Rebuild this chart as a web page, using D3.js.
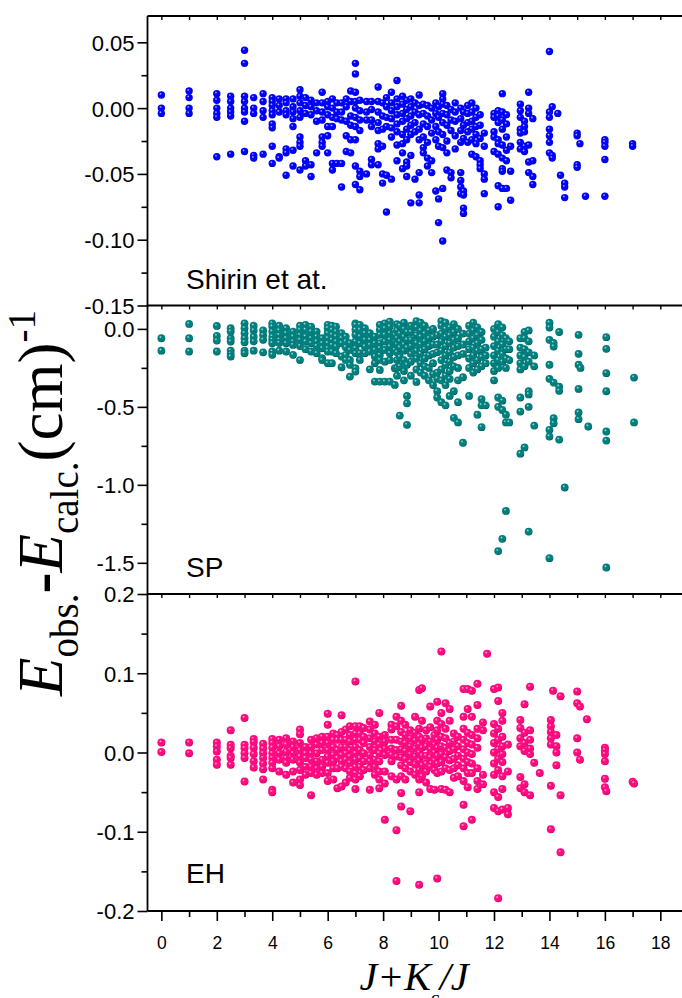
<!DOCTYPE html>
<html><head><meta charset="utf-8">
<script src="https://cdn.jsdelivr.net/npm/d3@7"></script>
<style>body{margin:0;background:#fff}svg{display:block}</style>
</head><body>
<script>
// ---------------- data ----------------
const xTicks = [0, 2, 4, 6, 8, 10, 12, 14, 16, 18];
const xMinorTicks = [1, 3, 5, 7, 9, 11, 13, 15, 17, 19];
const shirinTicks = [0.05, 0.00, -0.05, -0.10, -0.15];
const shirinMinor = [0.025, -0.025, -0.075, -0.125];
const spTicks = [0.0, -0.5, -1.0, -1.5];
const spMinor = [-0.25, -0.75, -1.25];
const ehTicks = [0.2, 0.1, 0.0, -0.1, -0.2];
const ehMinor = [0.15, 0.05, -0.05, -0.15];
const panelLabels = ["Shirin et at.", "SP", "EH"];

// each entry: [J + K/J, [E_obs - E_calc values]]
const shirin = [
  [0, [0.010, 0.000, -0.004]],
  [1, [0.013, 0.008, 0.000, -0.004]],
  [2, [0.011, 0.006, 0.000, -0.004, -0.007, -0.037]],
  [2.5, [0.009, 0.005, 0.000, -0.003, -0.006, -0.035]],
  [3, [0.044, 0.034, 0.009, 0.005, 0.000, -0.003, -0.010, -0.033]],
  [3.33, [0.008, 0.000, -0.004, -0.036, -0.038]],
  [3.67, [0.011, 0.005, -0.002, -0.007, -0.035]],
  [4, [0.008, 0.005, 0.002, -0.002, -0.005, -0.012, -0.015, -0.029, -0.042]],
  [4.25, [0.007, 0.002, -0.003, -0.037, -0.038]],
  [4.5, [0.007, 0.004, -0.002, -0.005, -0.031, -0.034, -0.051]],
  [4.75, [0.007, 0.001, -0.003, -0.008, -0.014, -0.032, -0.044]],
  [5, [0.014, 0.009, 0.004, -0.002, -0.007, -0.022, -0.026, -0.029, -0.047]],
  [5.2, [0.008, 0.002, -0.004, -0.040, -0.044]],
  [5.4, [0.006, 0.001, -0.005, -0.043, -0.052]],
  [5.6, [0.004, -0.002, -0.010, -0.034]],
  [5.8, [0.012, 0.004, -0.003, -0.009, -0.022, -0.026, -0.029]],
  [6, [0.005, 0.001, -0.005, -0.014, -0.021, -0.034]],
  [6.17, [0.007, 0.000, -0.007, -0.014, -0.042, -0.047]],
  [6.33, [0.004, -0.003, -0.008, -0.042]],
  [6.5, [0.004, -0.003, -0.009, -0.042, -0.060]],
  [6.67, [0.007, 0.001, -0.010, -0.021, -0.033]],
  [6.83, [0.013, 0.005, -0.006, -0.013, -0.024, -0.034]],
  [7, [0.034, 0.026, 0.012, 0.005, 0.000, -0.007, -0.014, -0.024, -0.044, -0.058]],
  [7.16, [0.006, -0.002, -0.009, -0.017, -0.048, -0.052, -0.062]],
  [7.4, [0.005, -0.003, -0.009, -0.050]],
  [7.58, [0.005, -0.001, -0.009, -0.014, -0.039, -0.043]],
  [7.82, [0.016, 0.005, -0.003, -0.011, -0.017, -0.027, -0.031, -0.043]],
  [7.98, [0.004, -0.006, -0.016, -0.029, -0.050, -0.057]],
  [8.12, [0.008, 0.001, -0.007, -0.014, -0.051, -0.079]],
  [8.3, [0.012, 0.004, -0.002, -0.008, -0.015, -0.022, -0.054]],
  [8.5, [0.021, 0.007, 0.001, -0.005, -0.012, -0.018, -0.028, -0.040]],
  [8.7, [0.009, 0.003, -0.004, -0.010, -0.020, -0.027, -0.034, -0.046]],
  [8.85, [0.006, -0.001, -0.008, -0.016, -0.024, -0.041, -0.044, -0.052]],
  [9.0, [0.007, 0.001, -0.006, -0.013, -0.020, -0.036, -0.072]],
  [9.15, [0.004, -0.003, -0.011, -0.018, -0.054]],
  [9.3, [0.010, 0.002, -0.005, -0.016, -0.024, -0.049, -0.066, -0.072]],
  [9.45, [0.003, -0.004, -0.012, -0.022, -0.030, -0.034]],
  [9.6, [0.002, -0.006, -0.014, -0.026, -0.038, -0.044]],
  [9.75, [0.000, -0.009, -0.019, -0.040, -0.049]],
  [9.9, [0.004, -0.004, -0.014, -0.024, -0.063]],
  [10.0, [0.001, -0.007, -0.018, -0.029, -0.069, -0.087]],
  [10.15, [0.011, 0.007, 0.003, -0.004, -0.011, -0.020, -0.030, -0.061, -0.101]],
  [10.3, [0.002, -0.005, -0.013, -0.025, -0.034, -0.047]],
  [10.45, [-0.001, -0.009, -0.017, -0.049, -0.053]],
  [10.6, [0.004, -0.003, -0.010, -0.021, -0.031]],
  [10.8, [0.000, -0.008, -0.017, -0.026, -0.049, -0.055, -0.060, -0.065]],
  [10.9, [-0.003, -0.013, -0.023, -0.063, -0.066, -0.076, -0.080]],
  [11.05, [0.002, -0.004, -0.011, -0.018, -0.026]],
  [11.2, [0.004, -0.003, -0.010, -0.016, -0.024, -0.035]],
  [11.35, [0.000, -0.007, -0.014, -0.020, -0.027, -0.037]],
  [11.5, [-0.005, -0.013, -0.023, -0.040, -0.043, -0.046]],
  [11.65, [-0.019, -0.029, -0.050, -0.054, -0.065]],
  [12.0, [-0.004, -0.007, -0.018, -0.022, -0.033]],
  [12.15, [-0.002, -0.006, -0.011, -0.024, -0.027, -0.035, -0.059, -0.075]],
  [12.3, [0.011, -0.003, -0.009, -0.016, -0.028, -0.038, -0.046, -0.048, -0.061]],
  [12.45, [-0.005, -0.012, -0.022, -0.032, -0.040, -0.061]],
  [12.6, [-0.029, -0.048, -0.070]],
  [12.95, [0.003, -0.002, -0.007, -0.016, -0.019, -0.026, -0.031]],
  [13.1, [-0.010, -0.014, -0.018, -0.029, -0.033]],
  [13.25, [0.012, 0.000, -0.004, -0.028, -0.041, -0.049]],
  [13.4, [-0.008, -0.040, -0.052, -0.058]],
  [14.0, [0.043, -0.003, -0.007, -0.016, -0.021, -0.026, -0.034]],
  [14.1, [0.001, -0.036, -0.038]],
  [14.3, [-0.004]],
  [14.4, [-0.051]],
  [14.55, [-0.057, -0.060, -0.068]],
  [15.0, [-0.019, -0.021, -0.043, -0.045]],
  [15.1, [-0.027]],
  [15.3, [-0.067]],
  [16.0, [-0.024, -0.026, -0.029, -0.039, -0.067]],
  [17.0, [-0.027, -0.029]]
];

const sp = [
  [0, [-0.06, -0.14]],
  [1, [0.032, -0.06, -0.145]],
  [2, [0.019, -0.045, -0.075, -0.145]],
  [2.5, [0.004, -0.017, -0.06, -0.081, -0.139, -0.16, -0.177]],
  [3, [0.036, 0.004, -0.028, -0.06, -0.085, -0.139, -0.156]],
  [3.33, [0.02, -0.01, -0.05, -0.08, -0.14]],
  [3.67, [-0.01, -0.04, -0.07, -0.15]],
  [4, [0.036, 0.015, -0.017, -0.049, -0.07, -0.092, -0.145, -0.166]],
  [4.25, [0.02, -0.01, -0.04, -0.07, -0.09, -0.14]],
  [4.5, [0.004, -0.028, -0.06, -0.092, -0.145]],
  [4.75, [-0.017, -0.049, -0.081, -0.103, -0.166]],
  [5, [0.02, -0.006, -0.04, -0.07, -0.11, -0.2]],
  [5.2, [0.026, -0.006, -0.049, -0.081, -0.13]],
  [5.4, [0.015, -0.017, -0.06, -0.092, -0.145]],
  [5.6, [-0.017, -0.049, -0.081, -0.11, -0.156]],
  [5.8, [-0.06, -0.092, -0.124, -0.188, -0.2]],
  [6, [0.026, 0.004, -0.028, -0.06, -0.092, -0.124, -0.145, -0.22]],
  [6.15, [0.02, -0.006, -0.038, -0.07, -0.103, -0.145, -0.22]],
  [6.3, [0.015, -0.017, -0.049, -0.081, -0.113, -0.156]],
  [6.5, [-0.028, -0.06, -0.092, -0.177, -0.246]],
  [6.65, [-0.049, -0.081, -0.118, -0.167, -0.199]],
  [6.8, [-0.092, -0.135, -0.199, -0.23, -0.306]],
  [7, [0.036, 0.026, -0.006, -0.038, -0.081, -0.124, -0.156, -0.252, -0.274]],
  [7.16, [0.026, -0.006, -0.049, -0.092, -0.156, -0.199]],
  [7.34, [0.004, -0.028, -0.07, -0.113, -0.156]],
  [7.52, [-0.028, -0.07, -0.103, -0.145, -0.259]],
  [7.7, [-0.049, -0.092, -0.135, -0.177, -0.22, -0.338]],
  [7.88, [0.026, -0.006, -0.038, -0.092, -0.124, -0.167, -0.199, -0.263, -0.338]],
  [8.06, [0.036, 0.004, -0.038, -0.081, -0.135, -0.21, -0.338]],
  [8.24, [0.047, 0.015, -0.028, -0.07, -0.113, -0.156, -0.199, -0.338]],
  [8.42, [-0.038, -0.081, -0.135, -0.252, -0.359]],
  [8.5, [0.03, -0.01, -0.06, -0.10, -0.15, -0.2, -0.25, -0.30]],
  [8.6, [0.02, -0.03, -0.08, -0.12, -0.18, -0.24, -0.556]],
  [8.75, [0.04, 0.0, -0.05, -0.10, -0.14, -0.20, -0.27, -0.33]],
  [8.86, [-0.02, -0.07, -0.12, -0.23, -0.43, -0.477, -0.615]],
  [9.0, [0.02, -0.02, -0.07, -0.11, -0.16, -0.21, -0.30]],
  [9.2, [0.05, 0.01, -0.04, -0.09, -0.14, -0.19, -0.26, -0.34]],
  [9.35, [0.04, -0.01, -0.05, -0.10, -0.16, -0.22, -0.28]],
  [9.5, [0.02, -0.03, -0.08, -0.13, -0.19, -0.24, -0.30]],
  [9.65, [-0.01, -0.06, -0.11, -0.17, -0.25, -0.33]],
  [9.8, [0.0, -0.05, -0.10, -0.16, -0.22, -0.29, -0.36]],
  [9.95, [-0.04, -0.10, -0.15, -0.28, -0.32, -0.40, -0.44]],
  [10.1, [0.05, 0.02, -0.03, -0.08, -0.14, -0.20, -0.26, -0.33, -0.47]],
  [10.25, [0.04, 0.0, -0.05, -0.11, -0.17, -0.23, -0.30, -0.36, -0.49]],
  [10.4, [0.01, -0.04, -0.09, -0.15, -0.21, -0.27, -0.32, -0.43]],
  [10.55, [0.03, -0.02, -0.07, -0.12, -0.18, -0.24, -0.40, -0.57]],
  [10.7, [0.0, -0.06, -0.11, -0.17, -0.25, -0.33, -0.47, -0.60]],
  [10.88, [-0.03, -0.10, -0.16, -0.31, -0.73]],
  [11.1, [0.02, -0.03, -0.08, -0.13, -0.19, -0.25, -0.43]],
  [11.25, [0.04, -0.01, -0.06, -0.12, -0.17, -0.22, -0.28]],
  [11.4, [0.01, -0.04, -0.09, -0.14, -0.20, -0.26, -0.55]],
  [11.55, [-0.02, -0.07, -0.13, -0.18, -0.24, -0.45, -0.49, -0.63]],
  [11.7, [-0.12, -0.17, -0.22, -0.49]],
  [12.0, [0.0, -0.05, -0.11, -0.17, -0.22, -0.27, -0.33]],
  [12.15, [0.03, -0.02, -0.08, -0.14, -0.20, -0.25, -0.44, -0.50, -1.425]],
  [12.3, [0.01, -0.04, -0.10, -0.16, -0.21, -0.46, -0.52, -1.346]],
  [12.43, [-0.06, -0.13, -0.19, -0.25, -0.55, -0.60, -1.167]],
  [12.55, [-0.08, -0.13, -0.20, -0.60]],
  [12.95, [-0.06, -0.12, -0.17, -0.22, -0.26, -0.44, -0.53, -0.80]],
  [13.1, [-0.02, -0.06, -0.13, -0.18, -0.24, -0.76]],
  [13.25, [-0.01, -0.08, -0.15, -0.21, -0.40, -0.42, -0.50, -1.30]],
  [13.45, [-0.17, -0.24, -0.62]],
  [14.0, [0.04, 0.009, -0.07, -0.23, -0.32, -0.647, -0.69, -1.47]],
  [14.15, [-0.09, -0.113, -0.344, -0.573, -0.605]],
  [14.35, [-0.02, -0.37, -0.397, -0.71]],
  [14.55, [-1.017]],
  [15.05, [-0.038, -0.16, -0.23, -0.385, -0.536, -0.579]],
  [15.12, [-0.25]],
  [15.4, [-0.626]],
  [16.05, [-0.053, -0.128, -0.284, -0.40, -0.658, -0.716, -1.53]],
  [17.05, [-0.312, -0.60]]
];

const eh = [
  [0, [0.0126, 0.0005]],
  [1, [0.0126, -0.0009]],
  [2, [0.0126, 0.0076, 0.0013, -0.0092, -0.0155]],
  [2.5, [0.028, 0.0097, 0.0055, -0.0042, -0.007, -0.0155]],
  [3, [0.0434, 0.0097, 0.0055, -0.0008, -0.007, -0.0366]],
  [3.33, [0.017, 0.013, 0.006, -0.002, -0.011, -0.019]],
  [3.67, [0.011, 0.005, -0.001, -0.007, -0.014, -0.021, -0.034]],
  [4, [0.017, 0.012, 0.006, -0.001, -0.007, -0.013, -0.020, -0.047, -0.050]],
  [4.25, [0.016, 0.008, -0.001, -0.009, -0.024]],
  [4.5, [0.018, 0.010, 0.001, -0.007, -0.013, -0.028]],
  [4.75, [0.014, 0.007, -0.001, -0.009, -0.024, -0.038]],
  [5, [0.029, 0.023, 0.012, 0.003, -0.005, -0.013, -0.022, -0.034, -0.041]],
  [5.2, [0.007, -0.001, -0.007, -0.018, -0.028]],
  [5.4, [0.016, 0.007, -0.001, -0.009, -0.018, -0.026, -0.054]],
  [5.6, [0.018, 0.010, -0.001, -0.011, -0.020, -0.028]],
  [5.8, [0.020, 0.012, 0.003, -0.009, -0.018, -0.026]],
  [6, [0.049, 0.035, 0.020, 0.012, 0.003, -0.005, -0.013, -0.026, -0.036]],
  [6.2, [0.024, 0.016, 0.007, -0.003, -0.011, -0.020, -0.034]],
  [6.35, [0.022, 0.016, 0.003, -0.007, -0.020, -0.045]],
  [6.5, [0.047, 0.026, 0.016, 0.007, -0.003, -0.011, -0.018, -0.043]],
  [6.65, [0.029, 0.016, 0.007, -0.001, -0.009, -0.020, -0.038]],
  [6.8, [0.033, 0.022, 0.014, 0.003, -0.005, -0.013, -0.024, -0.032]],
  [7, [0.0897, 0.033, 0.024, 0.016, 0.007, -0.001, -0.009, -0.018, -0.026, -0.034, -0.046]],
  [7.16, [0.033, 0.024, 0.016, 0.003, -0.007, -0.018, -0.030]],
  [7.3, [0.031, 0.020, 0.012, -0.001, -0.011, -0.022]],
  [7.52, [0.039, 0.029, 0.018, 0.007, -0.003, -0.011, -0.020, -0.047]],
  [7.7, [0.035, 0.024, 0.014, 0.003, -0.009, -0.018, -0.028]],
  [7.86, [0.050, 0.020, 0.010, -0.001, -0.011, -0.024, -0.034, -0.045]],
  [8.06, [0.022, 0.014, 0.005, -0.003, -0.024, -0.039, -0.085]],
  [8.3, [0.035, 0.029, 0.016, 0.005, -0.003, -0.011, -0.030]],
  [8.48, [0.045, 0.033, 0.016, 0.003, -0.005, -0.034, -0.098, -0.162]],
  [8.65, [0.059, 0.040, 0.026, 0.014, 0.004, -0.006, -0.016, -0.030, -0.051, -0.068]],
  [8.8, [0.035, 0.022, 0.012, 0.002, -0.008, -0.020, -0.034]],
  [8.98, [0.028, 0.018, 0.008, -0.002, -0.012, -0.024, -0.074]],
  [9.15, [0.045, 0.025, 0.015, 0.005, -0.005, -0.015, -0.028]],
  [9.3, [0.079, 0.030, 0.020, 0.010, 0.000, -0.010, -0.022, -0.034, -0.050, -0.167]],
  [9.4, [0.081, 0.040, 0.016, 0.006, -0.004, -0.016, -0.030]],
  [9.55, [0.028, 0.018, 0.008, -0.004, -0.014, -0.024, -0.038]],
  [9.7, [0.058, 0.032, 0.014, 0.004, -0.006, -0.018, -0.046]],
  [9.85, [0.022, 0.010, 0.000, -0.010, -0.022, -0.047]],
  [9.95, [0.064, 0.040, 0.028, 0.016, 0.006, -0.004, -0.014, -0.026, -0.159]],
  [10.1, [0.1275, 0.050, 0.036, 0.020, 0.008, -0.002, -0.012, -0.024, -0.046]],
  [10.25, [0.062, 0.030, 0.018, 0.006, -0.006, -0.020, -0.047]],
  [10.4, [0.055, 0.040, 0.012, 0.002, -0.010, -0.022, -0.050]],
  [10.55, [0.024, 0.014, 0.004, -0.008, -0.020, -0.032]],
  [10.7, [0.020, 0.008, -0.004, -0.016, -0.030]],
  [10.9, [0.080, 0.045, 0.030, 0.016, 0.004, -0.008, -0.020, -0.036, -0.066, -0.093]],
  [11.05, [0.080, 0.055, 0.025, 0.012, 0.000, -0.012, -0.026, -0.044]],
  [11.2, [0.078, 0.045, 0.022, 0.010, -0.002, -0.014, -0.026, -0.085]],
  [11.4, [0.0867, 0.060, 0.030, 0.018, 0.006, -0.020, -0.036, -0.046]],
  [11.6, [0.038, 0.028, -0.028, -0.040]],
  [11.75, [0.1246]],
  [12.0, [0.080, 0.036, 0.024, 0.012, 0.000, -0.014, -0.028, -0.050, -0.070]],
  [12.15, [0.082, 0.065, 0.030, 0.016, 0.004, -0.008, -0.022, -0.056, -0.074, -0.184]],
  [12.3, [0.050, 0.040, 0.020, 0.008, -0.002, -0.012, -0.030, -0.046, -0.072]],
  [12.5, [0.010, -0.024, -0.070, -0.078]],
  [12.95, [0.041, 0.031, 0.018, 0.008, -0.031, -0.045]],
  [13.1, [0.061, 0.025, 0.012, 0.002, -0.040, -0.050]],
  [13.3, [0.083, 0.028, 0.016, 0.005, -0.002, -0.054]],
  [13.45, [-0.013]],
  [13.65, [-0.026]],
  [14.05, [0.041, 0.033, 0.026, 0.018, 0.010, -0.042, -0.097]],
  [14.13, [0.078]],
  [14.25, [0.022, 0.008, 0.000, -0.016]],
  [14.4, [0.071, -0.054, -0.126]],
  [15.0, [0.077, 0.062, 0.018, 0.000]],
  [15.1, [0.058, -0.009]],
  [15.35, [0.042]],
  [16.0, [0.006, 0.003, -0.002, -0.011, -0.033, -0.044]],
  [16.05, [-0.049]],
  [17.0, [-0.037]],
  [17.05, [-0.039]]
];

// ---------------- drawing ----------------
const W = 682, H = 998;
const svg = d3.select("body").append("svg").attr("width", W).attr("height", H);
const defs = svg.append("defs");

const colors = [
  {id: "gBlue", light: "#c8c8ff", base: "#0000ff", dark: "#00009a"},
  {id: "gTeal", light: "#b8e2e2", base: "#007f7f", dark: "#004c4c"},
  {id: "gPink", light: "#ffc0dc", base: "#ff0a80", dark: "#b0004f"}
];
colors.forEach(c => {
  const g = defs.append("radialGradient").attr("id", c.id)
    .attr("cx", "40%").attr("cy", "38%").attr("r", "62%").attr("fx", "38%").attr("fy", "34%");
  g.append("stop").attr("offset", "0%").attr("stop-color", c.light);
  g.append("stop").attr("offset", "30%").attr("stop-color", c.base);
  g.append("stop").attr("offset", "85%").attr("stop-color", c.base);
  g.append("stop").attr("offset", "100%").attr("stop-color", c.dark);
});

const x = d3.scaleLinear().domain([-0.5, 19]).range([147.5, 147.5 + 19.5 * 27.72]);
const left = x(-0.5);

const panels = [
  {data: shirin, grad: "gBlue", domain: [-0.15, 0.07], top: 16, bottom: 305.5,
   ticks: shirinTicks, minor: shirinMinor, fmt: d => d.toFixed(2), r: 3.7, label: panelLabels[0], ly: 289},
  {data: sp, grad: "gTeal", domain: [-1.7, 0.15], top: 305.5, bottom: 594,
   ticks: spTicks, minor: spMinor, fmt: d => d.toFixed(1), r: 3.9, label: panelLabels[1], ly: 577},
  {data: eh, grad: "gPink", domain: [-0.2, 0.2], top: 594, bottom: 911,
   ticks: ehTicks, minor: ehMinor, fmt: d => d.toFixed(1), r: 4.0, label: panelLabels[2], ly: 883}
];

const font = "'Liberation Sans', Arial, sans-serif";

panels.forEach((p, i) => {
  const y = d3.scaleLinear().domain(p.domain).range([p.bottom, p.top]);
  const g = svg.append("g");

  // points
  const pts = p.data.flatMap(([xv, ys]) => ys.map(v => ({x: xv, y: v})));
  g.append("g").selectAll("circle").data(pts).join("circle")
    .attr("cx", d => x(d.x)).attr("cy", d => y(d.y)).attr("r", p.r)
    .attr("fill", `url(#${p.grad})`);

  // y axis major
  const ax = g.append("g").attr("transform", `translate(${left},0)`)
    .call(d3.axisLeft(y).tickValues(p.ticks).tickFormat(p.fmt).tickSize(10).tickPadding(3));
  ax.select(".domain").remove();
  ax.selectAll("line").attr("stroke", "#000").attr("stroke-width", 1.6);
  ax.selectAll("text").attr("font-family", font).attr("font-size", 22).attr("fill", "#000")
    .attr("dy", "0.36em");
  const axm = g.append("g").attr("transform", `translate(${left},0)`)
    .call(d3.axisLeft(y).tickValues(p.minor).tickFormat("").tickSize(6));
  axm.select(".domain").remove();
  axm.selectAll("line").attr("stroke", "#000").attr("stroke-width", 1.6);

  // top border of panel with small inward ticks
  const xt = g.append("g").attr("transform", `translate(0,${p.top})`)
    .call(d3.axisBottom(x).tickValues(d3.range(0, 20)).tickFormat("").tickSize(4));
  xt.select(".domain").remove();
  xt.selectAll("line").attr("stroke", "#000").attr("stroke-width", 1.4);
  g.append("line").attr("x1", left).attr("x2", W + 10).attr("y1", p.top).attr("y2", p.top)
    .attr("stroke", "#000").attr("stroke-width", 1.8);

  // panel label
  g.append("text").attr("x", 186).attr("y", p.ly).text(p.label)
    .attr("font-family", font).attr("font-size", 28).attr("fill", "#000");
});

// left frame line
svg.append("line").attr("x1", left).attr("x2", left).attr("y1", 16).attr("y2", 911)
  .attr("stroke", "#000").attr("stroke-width", 1.8);

// bottom x axis
const xb = svg.append("g").attr("transform", "translate(0,911)")
  .call(d3.axisBottom(x).tickValues(xTicks).tickFormat(d3.format("d")).tickSize(10).tickPadding(16));
xb.select(".domain").remove();
xb.selectAll("line").attr("stroke", "#000").attr("stroke-width", 1.6);
xb.selectAll("text").attr("font-family", font).attr("font-size", 17.5).attr("fill", "#000");
const xbm = svg.append("g").attr("transform", "translate(0,911)")
  .call(d3.axisBottom(x).tickValues(xMinorTicks).tickFormat("").tickSize(6));
xbm.select(".domain").remove();
xbm.selectAll("line").attr("stroke", "#000").attr("stroke-width", 1.6);
svg.append("line").attr("x1", left).attr("x2", W + 10).attr("y1", 911).attr("y2", 911)
  .attr("stroke", "#000").attr("stroke-width", 1.8);

// x title
const serif = "'Liberation Serif', 'Times New Roman', serif";
const xtt = svg.append("text").attr("x", 414).attr("y", 990).attr("text-anchor", "middle")
  .attr("font-family", serif).attr("font-size", 40).attr("font-style", "italic").attr("fill", "#000");
xtt.append("tspan").text("J+K");
xtt.append("tspan").attr("font-size", 20).attr("dy", 15).attr("font-style", "normal").text("c");
xtt.append("tspan").attr("dy", -15).text("/J");

// y title
const yt = svg.append("text").attr("transform", "translate(62,503) rotate(-90)")
  .attr("text-anchor", "middle").attr("font-family", serif).attr("font-size", 63).attr("fill", "#000");
yt.append("tspan").attr("font-style", "italic").text("E");
yt.append("tspan").attr("font-size", 39).attr("dy", 16).text("obs.");
yt.append("tspan").attr("dy", -16).attr("font-weight", "bold").text("-");
yt.append("tspan").attr("font-style", "italic").text("E");
yt.append("tspan").attr("font-size", 39).attr("dy", 16).text("calc.");
yt.append("tspan").attr("dy", -16).text("(cm)");
yt.append("tspan").attr("font-size", 39).attr("dy", -27).text("-1");
</script>
</body></html>
